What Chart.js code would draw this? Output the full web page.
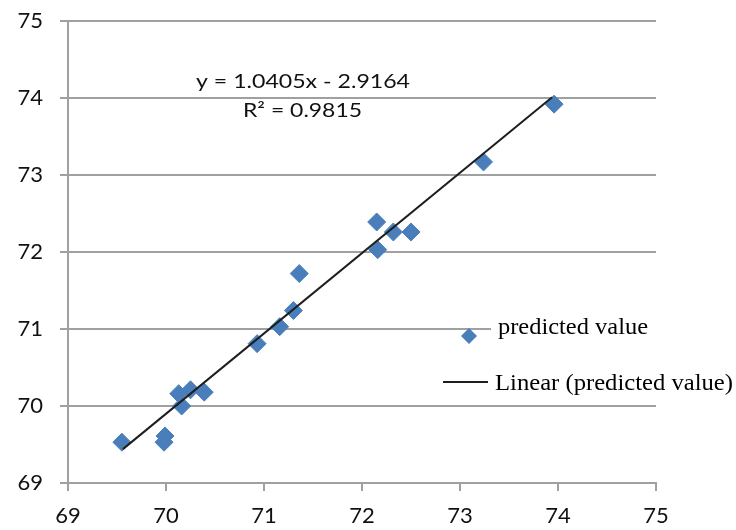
<!DOCTYPE html>
<html>
<head>
<meta charset="utf-8">
<script src="https://cdn.jsdelivr.net/npm/chart.js@4.4.1/dist/chart.umd.min.js"></script>
<style>
  html, body { margin: 0; padding: 0; background: #fff; }
  #wrap { width: 736px; height: 530px; }
</style>
</head>
<body>
<div id="wrap"><canvas id="fitChart"></canvas></div>
<script>
  // values
  const actualX = [69.55, 69.99, 69.98, 70.13, 70.25, 70.16, 70.39, 70.93, 71.16, 71.30,
                   71.36, 72.15, 72.32, 72.50, 72.16, 73.24, 73.96];
  const predictedY = [69.53, 69.61, 69.53, 70.16, 70.21, 70.00, 70.18, 70.81, 71.03, 71.24,
                      71.72, 72.39, 72.26, 72.26, 72.03, 73.17, 73.92];
  const trendX = [69.56, 73.94];
  const trendY = [69.44, 74.01];
  const xTicks = [69, 70, 71, 72, 73, 74, 75];
  const yTicks = [69, 70, 71, 72, 73, 74, 75];
  const seriesName = 'predicted value';
  const trendName = 'Linear (predicted value)';
  const equation = 'y = 1.0405x - 2.9164';
  const rSquared = 'R\u00b2 = 0.9815';

  const gridGray = '#a0a0a0';
  const markerBlue = '#4a7ebb';
  const labelColor = '#111';

  // text drawn with a horizontal squeeze/stretch so it spans a given width
  function fitText(ctx, text, x, y, width) {
    const w = ctx.measureText(text).width;
    ctx.save();
    ctx.translate(x, y);
    ctx.scale(width / w, 1);
    ctx.fillText(text, 0, 0);
    ctx.restore();
  }

  const overlay = {
    id: 'overlay',
    afterDraw(chart) {
      const ctx = chart.ctx;
      ctx.save();
      // legend box hides part of the 71 gridline
      ctx.fillStyle = '#fff';
      ctx.fillRect(491, 318, 170, 22);

      // legend marker
      ctx.fillStyle = markerBlue;
      ctx.beginPath();
      ctx.moveTo(469, 328);
      ctx.lineTo(477, 336);
      ctx.lineTo(469, 344);
      ctx.lineTo(461, 336);
      ctx.closePath();
      ctx.fill();

      // legend line
      ctx.strokeStyle = '#1e1e1e';
      ctx.lineWidth = 2;
      ctx.beginPath();
      ctx.moveTo(443, 382);
      ctx.lineTo(488, 382);
      ctx.stroke();

      ctx.fillStyle = '#000';
      ctx.textBaseline = 'alphabetic';
      ctx.font = '24px "Liberation Serif", "Times New Roman", serif';
      fitText(ctx, seriesName, 498, 334, 150);
      fitText(ctx, trendName, 495, 390, 238);

      ctx.fillStyle = labelColor;
      ctx.font = '19px Lato, sans-serif';
      fitText(ctx, equation, 196, 88, 214);
      fitText(ctx, rSquared, 243, 117, 119);
      ctx.restore();
    }
  };

  new Chart(document.getElementById('fitChart'), {
    type: 'scatter',
    data: {
      datasets: [{
        type: 'line',
        label: trendName,
        data: trendX.map((x, i) => ({ x: x, y: trendY[i] })),
        borderColor: '#1e1e1e',
        borderWidth: 2,
        pointRadius: 0,
        fill: false,
        order: 0
      }, {
        label: seriesName,
        data: actualX.map((x, i) => ({ x: x, y: predictedY[i] })),
        backgroundColor: markerBlue,
        borderColor: markerBlue,
        borderWidth: 1,
        pointStyle: 'rectRot',
        pointRadius: 9,
        order: 1
      }]
    },
    options: {
      responsive: true,
      maintainAspectRatio: false,
      animation: false,
      layout: { padding: { top: 21, right: 80, left: 0, bottom: 0 } },
      plugins: {
        legend: { display: false },
        tooltip: { enabled: false }
      },
      scales: {
        x: {
          type: 'linear',
          min: xTicks[0],
          max: xTicks[xTicks.length - 1],
          afterBuildTicks: (s) => { s.ticks = xTicks.map(v => ({ value: v })); },
          afterFit: (s) => { s.height = 47; s.paddingLeft = 0; s.paddingRight = 0; },
          grid: { drawOnChartArea: false, color: gridGray, lineWidth: 2, tickLength: 8 },
          border: { color: gridGray, width: 2 },
          ticks: {
            color: labelColor,
            padding: 12,
            maxRotation: 0,
            font: { family: 'Lato', size: 22 }
          }
        },
        y: {
          type: 'linear',
          min: yTicks[0],
          max: yTicks[yTicks.length - 1],
          afterBuildTicks: (s) => { s.ticks = yTicks.map(v => ({ value: v })); },
          afterFit: (s) => { s.width = 68; s.paddingTop = 0; s.paddingBottom = 0; },
          grid: { color: gridGray, lineWidth: 2, tickLength: 8 },
          border: { color: gridGray, width: 2 },
          ticks: {
            color: labelColor,
            padding: 17,
            font: { family: 'Lato', size: 22 }
          }
        }
      }
    },
    plugins: [overlay]
  });
</script>
</body>
</html>
